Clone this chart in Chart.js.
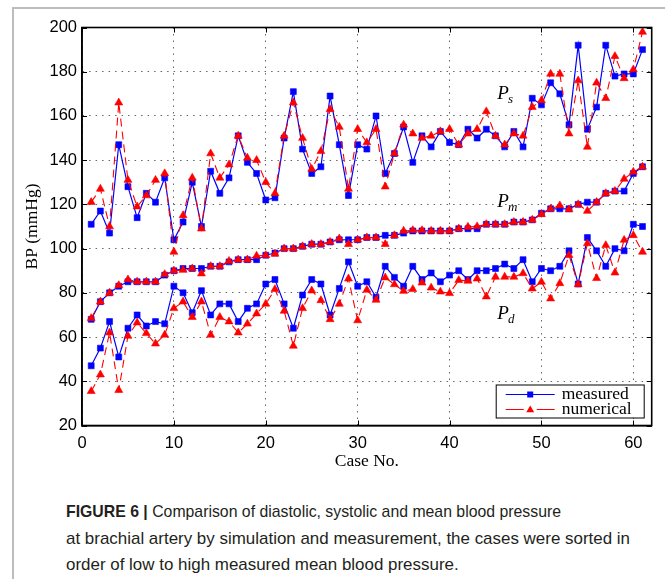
<!DOCTYPE html>
<html>
<head>
<meta charset="utf-8">
<script src="https://cdn.jsdelivr.net/npm/chart.js@4.4.0/dist/chart.umd.min.js"></script>
<style>
  html, body { margin: 0; padding: 0; background: #fff; }
  body { width: 665px; height: 579px; position: relative; overflow: hidden; }
  #frame { position: absolute; left: 12px; top: 7px; width: 700px; height: 620px;
           border-left: 2px solid #bdbdbd; border-top: 2px solid #bdbdbd; }
  #wrap { position: absolute; left: 0; top: 0; width: 665px; height: 480px; }
  #caption { position: absolute; left: 66px; top: 499px; color: #231f20;
             font-family: "Liberation Sans", Arial, sans-serif; font-size: 17px; line-height: 26.5px; }
  #caption .cl { white-space: nowrap; display: block; }
  #caption .cl span { display: inline-block; transform-origin: 0 50%; }
</style>
</head>
<body>
<div id="frame"></div>
<div id="wrap"><canvas id="chart"></canvas></div>
<div id="caption">
  <div class="cl"><span data-w="495"><b>FIGURE 6 |</b> Comparison of diastolic, systolic and mean blood pressure</span></div>
  <div class="cl"><span data-w="564">at brachial artery by simulation and measurement, the cases were sorted in</span></div>
  <div class="cl"><span>order of low to high measured mean blood pressure.</span></div>
</div>
<script>
// case numbers (x)
const caseNo = [1, 2, 3, 4, 5, 6, 7, 8, 9, 10, 11, 12, 13, 14, 15, 16, 17, 18, 19, 20,
  21, 22, 23, 24, 25, 26, 27, 28, 29, 30, 31, 32, 33, 34, 35, 36, 37, 38, 39, 40,
  41, 42, 43, 44, 45, 46, 47, 48, 49, 50, 51, 52, 53, 54, 55, 56, 57, 58, 59, 60, 61];

// systolic
const psMeasured = [111, 117, 107, 147, 128, 114, 125, 121, 132, 104, 112, 130, 110, 135, 125, 132, 151, 139, 134, 122,
  123, 150, 171, 145, 134, 137, 169, 147, 124, 147, 145, 160, 134, 143, 155, 139, 151, 146, 153, 148,
  147, 154, 150, 154, 151, 146, 153, 146, 168, 165, 175, 170, 156, 192, 154, 164, 192, 178, 179, 179, 190];
const psNumerical = [121, 127, 110, 166, 131, 119, 124, 131, 134, 98.5, 115, 132, 109, 143, 132, 138, 151, 141, 140, 130,
  125, 151, 166, 150, 136, 144, 163, 155, 127, 154, 148, 154, 128, 143, 156, 152, 150, 151, 153, 154,
  147, 152, 154, 162, 151, 147, 152, 151, 164, 167, 179, 179, 152, 176, 146, 175, 168, 187, 177, 181, 198];

// mean
const pmMeasured = [68, 76, 80, 83, 85, 85, 85, 85, 88, 90, 91, 91, 91, 92, 92, 94, 95, 95, 95, 97,
  98, 100, 100, 101, 102, 102, 103, 104, 104, 104, 105, 105, 106, 106, 107, 108, 108, 108, 108, 108,
  109, 109, 109, 111, 111, 111, 112, 112, 113, 116, 118, 118, 118, 120, 121, 121, 125, 126, 126, 134, 137];
const pmNumerical = [68.5, 76, 80, 83.4, 86, 85, 85, 85, 88.4, 90, 90.3, 91, 88.7, 92, 92, 94.4, 95, 95, 96.7, 97,
  97.6, 100, 100, 101, 102, 102, 103, 104.5, 102, 104, 105, 105, 102, 106, 108, 108.3, 108.3, 108, 108, 108,
  109, 109.8, 110, 111, 111, 111, 112, 112, 113, 115.5, 118, 119.5, 117.7, 120, 117, 121, 125, 126, 131.5, 134.7, 137];

// diastolic
const pdMeasured = [47, 55, 67, 51, 64, 70, 65, 67, 66, 83, 80, 71, 81, 70, 75, 75, 67, 73, 75, 84,
  86, 75, 64, 79, 86, 84, 70, 82, 94, 83, 85, 78, 92, 87, 83, 92, 86, 89, 85, 88,
  90, 86, 90, 90, 91, 93, 91, 95, 85, 91, 90, 92, 99, 84, 105, 99, 92, 100, 99, 111, 110];
const pdNumerical = [35.5, 43, 62, 36, 60.5, 66.5, 61.7, 57, 61, 73, 76, 69, 76, 61, 69, 67, 62, 66, 70.6, 75,
  81.6, 71.8, 56, 73, 81, 76.6, 68, 75, 86.4, 67.5, 81.3, 76.8, 86.9, 83.8, 80.8, 81.6, 84.6, 82.3, 80.5, 79.8,
  85.7, 85.4, 86.4, 78.3, 87.2, 87.2, 87.2, 88.8, 81.9, 84.9, 77.4, 84.3, 97, 83.8, 102.3, 86.6, 101.5, 89.1, 103.9, 106, 98.5];

const xTicks = [0, 10, 20, 30, 40, 50, 60];
const yTicks = [20, 40, 60, 80, 100, 120, 140, 160, 180, 200];

// curve labels, in data coordinates
const curveLabels = [
  { sub: 's', x: 45.2, y: 167.7 },
  { sub: 'm', x: 45.2, y: 118.6 },
  { sub: 'd', x: 45.2, y: 68.3 }
];

const BLUE = '#0000ff';
const RED = '#ff0000';
const SERIF = '"Liberation Serif", "Times New Roman", serif';
const SANS = '"Liberation Sans", Arial, sans-serif';

const pts = vals => vals.map((v, i) => ({ x: caseNo[i], y: v }));

const measured = label => ({
  label, type: 'line', borderColor: BLUE, backgroundColor: BLUE, borderWidth: 1.2,
  pointStyle: 'rect', pointRadius: 4.2, pointBorderWidth: 0.6, pointHoverRadius: 4.2,
  tension: 0, order: 1
});
const numerical = label => ({
  label, type: 'line', borderColor: RED, backgroundColor: RED, borderWidth: 1.1, borderDash: [8, 5],
  pointStyle: 'triangle', pointRadius: 4.6, pointBorderWidth: 0.6, pointHoverRadius: 4.6,
  tension: 0, order: 0
});

function drawTri(ctx, x, y, r) {
  ctx.beginPath();
  for (let k = 0; k < 3; k++) {
    const a = k * 2 * Math.PI / 3;
    const px = x + Math.sin(a) * r, py = y - Math.cos(a) * r;
    k ? ctx.lineTo(px, py) : ctx.moveTo(px, py);
  }
  ctx.closePath();
  ctx.fill();
}

// MATLAB-like box, inward ticks, curve labels and legend
const decorations = {
  id: 'decorations',
  afterDraw(chart) {
    const { ctx, chartArea: a, scales: { x, y } } = chart;
    ctx.save();
    ctx.strokeStyle = '#000';
    ctx.lineWidth = 1;
    ctx.beginPath();
    xTicks.forEach(v => {
      const px = Math.round(x.getPixelForValue(v)) + 0.5;
      ctx.moveTo(px, a.bottom); ctx.lineTo(px, a.bottom - 5);
      ctx.moveTo(px, a.top); ctx.lineTo(px, a.top + 5);
    });
    yTicks.forEach(v => {
      const py = Math.round(y.getPixelForValue(v)) + 0.5;
      ctx.moveTo(a.left, py); ctx.lineTo(a.left + 5, py);
      ctx.moveTo(a.right, py); ctx.lineTo(a.right - 5, py);
    });
    ctx.stroke();
    ctx.lineWidth = 1.6;
    ctx.strokeRect(a.left, a.top, a.right - a.left, a.bottom - a.top);

    // P_s, P_m, P_d
    ctx.fillStyle = '#000';
    ctx.textBaseline = 'alphabetic';
    curveLabels.forEach(l => {
      const px = x.getPixelForValue(l.x), py = y.getPixelForValue(l.y);
      ctx.font = 'italic 19px ' + SERIF;
      ctx.fillText('P', px, py);
      const w = ctx.measureText('P').width;
      ctx.font = 'italic 13px ' + SERIF;
      ctx.fillText(l.sub, px + w - 1, py + 4);
    });

    // legend
    const lx = a.right - 156, ly = a.bottom - 41, lw = 148, lh = 33;
    ctx.fillStyle = '#fff';
    ctx.fillRect(lx, ly, lw, lh);
    ctx.lineWidth = 1;
    ctx.strokeStyle = '#000';
    ctx.strokeRect(lx + 0.5, ly + 0.5, lw, lh);
    const rows = [
      { ds: chart.data.datasets[0], y: ly + 10 },
      { ds: chart.data.datasets[1], y: ly + 25 }
    ];
    rows.forEach((r, k) => {
      const x0 = lx + 10, x1 = lx + 59, xm = (x0 + x1) / 2;
      ctx.strokeStyle = r.ds.borderColor;
      ctx.lineWidth = r.ds.borderWidth;
      ctx.beginPath();
      if (k === 0) {
        ctx.moveTo(x0, r.y); ctx.lineTo(x1, r.y);
      } else {
        ctx.moveTo(x0, r.y); ctx.lineTo(x0 + 18, r.y);
        ctx.moveTo(x1 - 18, r.y); ctx.lineTo(x1, r.y);
      }
      ctx.stroke();
      ctx.fillStyle = r.ds.backgroundColor;
      if (k === 0) ctx.fillRect(xm - 3, r.y - 3, 6, 6);
      else drawTri(ctx, xm, r.y + 0.5, 4.6);
      ctx.fillStyle = '#000';
      ctx.font = '17.5px ' + SERIF;
      ctx.textBaseline = 'middle';
      ctx.fillText(r.ds.label, lx + 66, r.y);
    });
    ctx.restore();
  }
};

new Chart(document.getElementById('chart'), {
  type: 'line',
  data: {
    datasets: [
      Object.assign(measured('measured'), { data: pts(psMeasured) }),
      Object.assign(numerical('numerical'), { data: pts(psNumerical) }),
      Object.assign(measured('measured Pm'), { data: pts(pmMeasured) }),
      Object.assign(numerical('numerical Pm'), { data: pts(pmNumerical) }),
      Object.assign(measured('measured Pd'), { data: pts(pdMeasured) }),
      Object.assign(numerical('numerical Pd'), { data: pts(pdNumerical) })
    ]
  },
  options: {
    responsive: true,
    maintainAspectRatio: false,
    animation: false,
    layout: { padding: { left: 0, top: 27.5, right: 13.3, bottom: 0 } },
    plugins: {
      legend: { display: false },
      tooltip: { enabled: false }
    },
    scales: {
      x: {
        type: 'linear', min: 0, max: 62,
        afterFit: s => { s.height = 54.5; },
        afterBuildTicks: s => { s.ticks = xTicks.map(v => ({ value: v })); },
        ticks: { color: '#000', font: { family: SANS, size: 16.5 }, padding: 8, maxRotation: 0 },
        grid: { color: 'rgba(0,0,0,0.6)', lineWidth: 1, drawTicks: false },
        border: { display: true, color: '#000', width: 1.6, dash: [1.5, 5] },
        title: { display: true, text: 'Case No.', color: '#000',
                 font: { family: SERIF, size: 17.5 }, padding: { top: 0, bottom: 8 } }
      },
      y: {
        type: 'linear', min: 20, max: 200,
        afterFit: s => { s.width = 82; },
        afterBuildTicks: s => { s.ticks = yTicks.map(v => ({ value: v })); },
        ticks: { color: '#000', font: { family: SANS, size: 16.5 }, padding: 5 },
        grid: { color: 'rgba(0,0,0,0.6)', lineWidth: 1, drawTicks: false },
        border: { display: true, color: '#000', width: 1.6, dash: [1.5, 5] },
        title: { display: true, text: 'BP (mmHg)', color: '#000',
                 font: { family: SERIF, size: 17.5 }, padding: { top: 22, bottom: 0 } }
      }
    }
  },
  plugins: [decorations]
});

// fit caption lines to the width they take in the figure
(function fitCaption() {
  const spans = document.querySelectorAll('#caption .cl span');
  let last = 1;
  spans.forEach(sp => {
    const w = +sp.dataset.w;
    if (w) last = w / sp.getBoundingClientRect().width;
    sp.style.transform = 'scaleX(' + last + ')';
  });
})();
</script>
</body>
</html>
